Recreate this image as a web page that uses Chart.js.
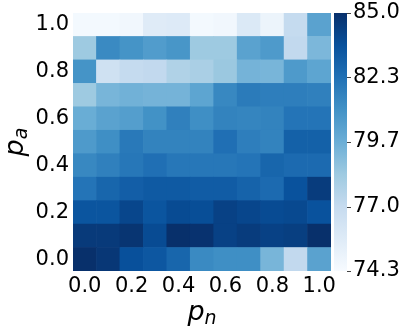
<!DOCTYPE html>
<html>
<head>
<meta charset="utf-8">
<script src="https://cdn.jsdelivr.net/npm/chart.js@4.4.1/dist/chart.umd.min.js"></script>
<style>
  html, body { margin: 0; padding: 0; background: #fff; }
  #wrap { width: 407px; height: 331px; position: relative; }
</style>
</head>
<body>
<div id="wrap"><canvas id="heat"></canvas></div>
<script>
// ============================================================
// DATA (accuracy, rows = p_a, columns = p_n)
// ============================================================
const pnLabels = ['0.0', '0.1', '0.2', '0.3', '0.4', '0.5', '0.6', '0.7', '0.8', '0.9', '1.0'];
const paValues = [0.0, 0.1, 0.2, 0.3, 0.4, 0.5, 0.6, 0.7, 0.8, 0.9, 1.0];
const yTicks = [0.0, 0.2, 0.4, 0.6, 0.8, 1.0];

const accPa00 = [85.0, 84.7, 83.7, 83.4, 82.8, 81.3, 81.1, 81.1, 79.3, 77.1, 80.2];
const accPa01 = [84.6, 84.6, 84.8, 83.9, 85.0, 84.9, 84.3, 84.5, 84.3, 84.4, 85.0];
const accPa02 = [83.5, 83.5, 84.1, 83.5, 83.9, 83.8, 84.3, 84.1, 83.9, 84.0, 83.6];
const accPa03 = [82.2, 82.8, 83.1, 83.3, 83.3, 83.2, 83.2, 82.9, 82.6, 83.6, 84.5];
const accPa04 = [81.4, 81.7, 82.1, 82.4, 82.1, 82.1, 82.1, 82.2, 82.8, 82.6, 82.6];
const accPa05 = [80.6, 81.1, 82.0, 81.6, 81.6, 81.6, 82.4, 81.8, 81.6, 83.0, 83.0];
const accPa06 = [79.7, 80.2, 80.4, 81.0, 81.7, 81.1, 81.6, 81.5, 81.6, 82.2, 82.2];
const accPa07 = [78.3, 79.3, 79.5, 79.4, 79.4, 80.1, 81.4, 81.9, 81.8, 81.8, 81.7];
const accPa08 = [80.9, 76.5, 77.0, 77.1, 77.7, 77.9, 78.4, 79.4, 79.3, 80.6, 80.1];
const accPa09 = [78.3, 81.3, 80.9, 80.5, 80.8, 78.3, 78.3, 80.2, 80.6, 77.1, 79.2];
const accPa10 = [74.5, 74.5, 74.6, 75.6, 75.7, 74.5, 74.6, 75.8, 74.9, 77.0, 80.2];
const accRows = [accPa00, accPa01, accPa02, accPa03, accPa04, accPa05, accPa06, accPa07, accPa08, accPa09, accPa10];

const cbMin = 74.3, cbMax = 85.0;
const cbTicks = [74.3, 76.975, 79.65, 82.325, 85.0];
const cbTickLabels = ['74.3', '77.0', '79.7', '82.3', '85.0'];

// ============================================================
// COLORMAP (matplotlib Blues)
// ============================================================
const blues = ['#f7fbff', '#deebf7', '#c6dbef', '#9ecae1', '#6baed6', '#4292c6', '#2171b5', '#08519c', '#08306b'];
const hex2rgb = h => [1, 3, 5].map(i => parseInt(h.slice(i, i + 2), 16));

function bluesAt(t) {
  t = Math.max(0, Math.min(1, t));
  const f = t * (blues.length - 1);
  const i = Math.min(Math.floor(f), blues.length - 2);
  const k = f - i;
  const a = hex2rgb(blues[i]), b = hex2rgb(blues[i + 1]);
  const c = a.map((v, j) => Math.round(v + (b[j] - v) * k));
  return `rgb(${c[0]},${c[1]},${c[2]})`;
}
const colorFor = v => bluesAt((v - cbMin) / (cbMax - cbMin));

// ============================================================
// LAYOUT
// ============================================================
const W = 407, H = 331;
const AREA = { left: 73, right: 331, top: 13, bottom: 271 };
const FONT = 'DejaVu Sans';
const half = 0.05;

const datasets = paValues.map((pa, r) => ({
  label: 'p_a=' + pa.toFixed(1),
  data: accRows[r].map(() => [pa - half, pa + half]),
  backgroundColor: accRows[r].map(colorFor),
  borderWidth: 0,
  barPercentage: 1,
  categoryPercentage: 1,
  grouped: false,
}));

// no extra label overflow padding, chart area is fixed by AREA
const noPad = s => { s.paddingTop = 0; s.paddingBottom = 0; s.paddingLeft = 0; s.paddingRight = 0; };

// Colorbar + math axis titles
const extrasPlugin = {
  id: 'extras',
  afterDraw(chart) {
    const { ctx, chartArea } = chart;
    const cb = chart.scales.cb;
    const x0 = chartArea.right + 3, x1 = chartArea.right + 16;
    const yTop = cb.getPixelForValue(cbMax), yBot = cb.getPixelForValue(cbMin);
    ctx.save();
    const g = ctx.createLinearGradient(0, yBot, 0, yTop);
    blues.forEach((c, i) => g.addColorStop(i / (blues.length - 1), c));
    ctx.fillStyle = g;
    ctx.fillRect(x0, yTop, x1 - x0, yBot - yTop);
    ctx.strokeStyle = '#444';
    ctx.lineWidth = 1;
    cbTicks.forEach(v => {
      const y = Math.round(cb.getPixelForValue(v)) + 0.5;
      ctx.beginPath();
      ctx.moveTo(x1, y);
      ctx.lineTo(x1 + 4, y);
      ctx.stroke();
    });

    // axis titles: italic p with subscript
    ctx.fillStyle = '#000';
    ctx.textBaseline = 'alphabetic';
    ctx.textAlign = 'left';
    const big = `oblique 27px "${FONT}"`, small = `oblique 19px "${FONT}"`;
    const drawSub = (base, sub) => {
      ctx.font = big;
      const wb = ctx.measureText(base).width;
      ctx.font = small;
      const ws = ctx.measureText(sub).width;
      const x = -(wb + ws) / 2;
      ctx.font = big;
      ctx.fillText(base, x, 0);
      ctx.font = small;
      ctx.fillText(sub, x + wb, 4);
    };
    const cx = (chartArea.left + chartArea.right) / 2;
    ctx.save();
    ctx.translate(cx, 320);
    drawSub('p', 'n');
    ctx.restore();
    ctx.save();
    ctx.translate(23, (chartArea.top + chartArea.bottom) / 2);
    ctx.rotate(-Math.PI / 2);
    drawSub('p', 'a');
    ctx.restore();
    ctx.restore();
  }
};

const tickFont = { size: 21, family: FONT };

new Chart(document.getElementById('heat').getContext('2d'), {
  type: 'bar',
  data: { labels: pnLabels, datasets },
  options: {
    responsive: true, maintainAspectRatio: false, animation: false,
    layout: { padding: { left: 0, right: 0, top: AREA.top, bottom: 0 } },
    plugins: { legend: { display: false }, tooltip: { enabled: false } },
    scales: {
      x: {
        type: 'category',
        grid: { display: false, drawTicks: false },
        border: { display: false },
        ticks: {
          color: '#000', font: tickFont, padding: 3, maxRotation: 0, autoSkip: false,
          callback: (v, i) => (i % 2 === 0 ? pnLabels[i] : ''),
        },
        afterFit: s => { noPad(s); s.height = H - AREA.bottom; },
      },
      y: {
        type: 'linear', min: -half, max: 1 + half,
        grid: { display: false, drawTicks: false },
        border: { display: false },
        afterBuildTicks: s => { s.ticks = yTicks.map(v => ({ value: v })); },
        ticks: { color: '#000', font: tickFont, padding: 4, callback: v => v.toFixed(1) },
        afterFit: s => { noPad(s); s.width = AREA.left; },
      },
      cb: {
        type: 'linear', position: 'right', min: cbMin, max: cbMax,
        grid: { display: false, drawTicks: false },
        border: { display: false },
        afterBuildTicks: s => { s.ticks = cbTicks.map(v => ({ value: v })); },
        ticks: { color: '#000', font: tickFont, padding: 22, callback: (v, i) => cbTickLabels[i] },
        afterFit: s => { noPad(s); s.width = W - AREA.right; },
      },
    },
  },
  plugins: [extrasPlugin],
});
</script>
</body>
</html>
